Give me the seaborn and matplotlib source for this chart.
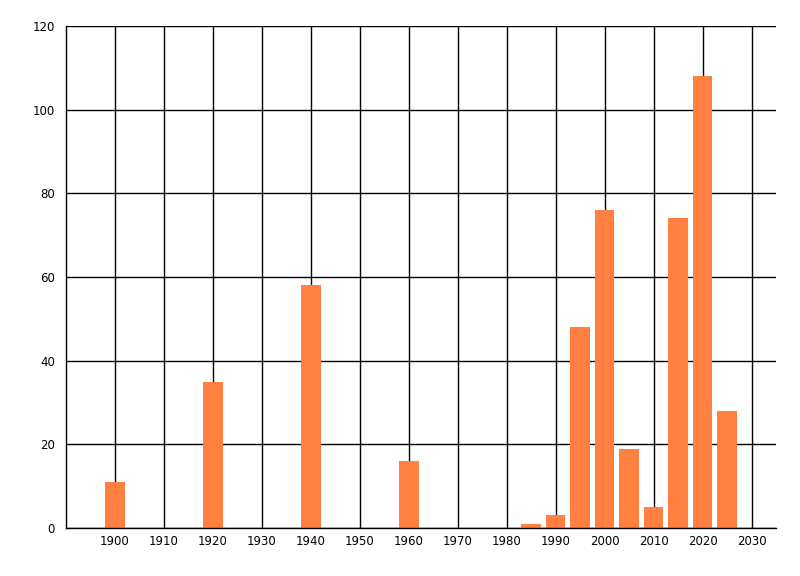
import matplotlib
matplotlib.use("Agg")
import matplotlib.pyplot as plt
import seaborn as sns
import pandas as pd

# values
years = [1900, 1920, 1940, 1960, 1985, 1990, 1995, 2000, 2005, 2010, 2015, 2020, 2025]
counts = [11, 35, 58, 16, 1, 3, 48, 76, 19, 5, 74, 108, 28]
x_ticks = list(range(1900, 2031, 10))
y_ticks = [0, 20, 40, 60, 80, 100, 120]

df = pd.DataFrame({"year": years, "count": counts})

sns.set_style("white")
plt.rcParams["font.family"] = ["DejaVu Sans"]

fig = plt.figure(figsize=(8, 5.76), dpi=100)
ax = fig.add_axes([0.0825, 0.0833, 0.8875, 0.8716])

sns.barplot(data=df, x="year", y="count", native_scale=True, width=0.8,
            color="#FF8040", saturation=1, linewidth=0, ax=ax)

ax.set_xlim(1890, 2035)
ax.set_ylim(0, 120)
ax.set_xticks(x_ticks)
ax.set_yticks(y_ticks)
ax.grid(True, color="black", linewidth=1)
ax.set_axisbelow(True)
ax.set_xlabel("")
ax.set_ylabel("")

for side in ["top", "right"]:
    ax.spines[side].set_visible(False)
for side in ["left", "bottom"]:
    ax.spines[side].set_color("black")
    ax.spines[side].set_linewidth(1)

ax.tick_params(axis="y", length=6, width=1, color="black", labelcolor="black",
               labelsize=8.5, pad=2)
ax.tick_params(axis="x", length=0, labelcolor="black", labelsize=8.5, pad=5)

fig.savefig("out.png", dpi=100)
